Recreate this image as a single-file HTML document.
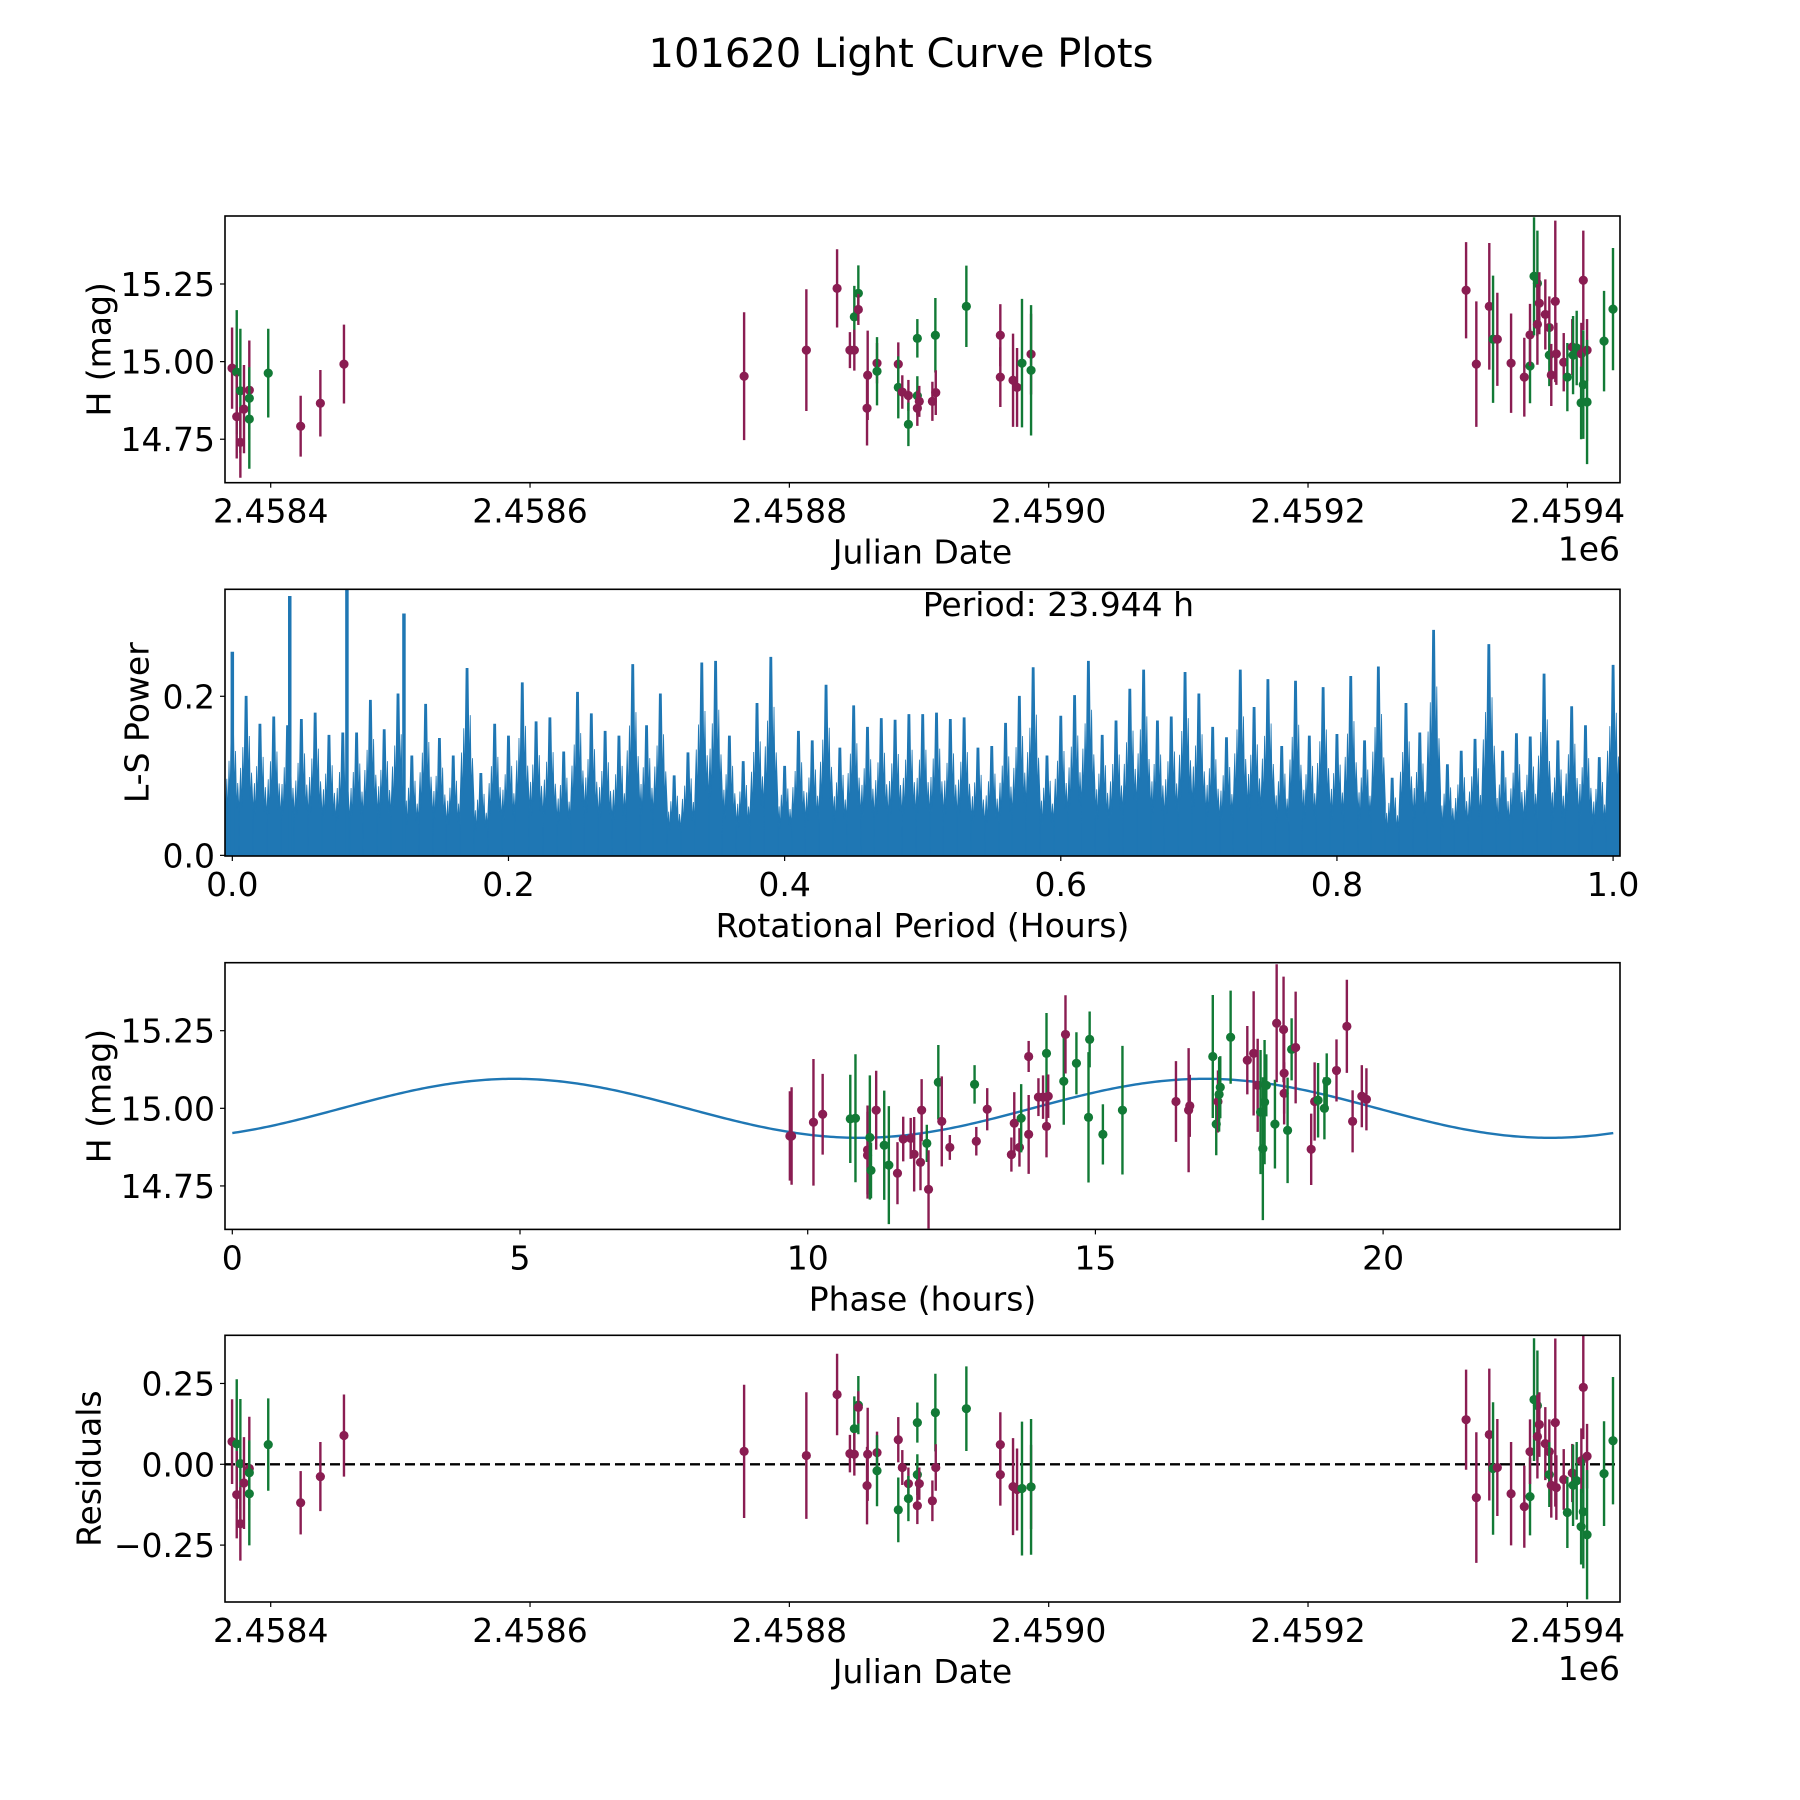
<!DOCTYPE html>
<html><head><meta charset="utf-8"><title>101620 Light Curve Plots</title>
<style>html,body{margin:0;padding:0;background:#fff}svg{display:block}text{font-family:"DejaVu Sans","Liberation Sans",sans-serif;fill:#000}</style>
</head><body>
<svg id="fig" xmlns="http://www.w3.org/2000/svg" width="1800" height="1800" viewBox="0 0 1800 1800">
<rect x="0" y="0" width="1800" height="1800" fill="#fff"/>
<text x="901" y="67" font-size="40" text-anchor="middle">101620 Light Curve Plots</text>
</svg>
<script>
// ---------- Light curve data (JD, H mag, error, band) ----------
const jd = [2458370.2,2458373.8,2458373.8,2458376.6,2458376.6,2458379.4,2458383.5,2458383.5,2458383.5,2458398.1,2458423.1,2458438.3,2458456.5,
2458765.1,2458813.1,2458836.8,2458850.1,2458853.2,2458853.2,2458846.7,2458850.1,2458860.4,2458859.9,2458867.6,2458867.6,2458884.0,2458884.0,2458887.1,2458891.8,2458891.8,2458898.7,2458898.7,2458898.7,2458900.2,2458910.3,2458912.6,2458912.9,2458936.5,2458962.7,2458962.7,2458972.5,2458975.6,2458979.4,2458986.4,2458986.4,
2459321.9,2459329.8,2459339.8,2459342.7,2459346.0,2459356.6,2459366.8,2459371.2,2459371.2,2459374.3,2459376.9,2459378.4,2459376.9,2459383.0,2459386.1,2459386.1,2459387.6,2459390.7,2459391.5,2459397.2,2459400.0,2459403.8,2459404.4,2459407.2,2459410.8,2459412.3,2459412.3,2459410.6,2459415.2,2459415.2,2459428.3,2459435.2];
const mag = [14.979,14.966,14.823,14.906,14.740,14.847,14.908,14.882,14.815,14.963,14.792,14.866,14.992,
14.953,15.037,15.236,15.144,15.220,15.168,15.037,15.037,14.956,14.850,14.995,14.969,14.992,14.917,14.902,14.891,14.798,15.075,14.890,14.850,14.872,14.872,15.085,14.900,15.178,15.085,14.950,14.940,14.917,14.995,15.024,14.972,
15.230,14.992,15.178,15.072,15.072,14.995,14.950,14.986,15.086,15.275,15.252,15.188,15.120,15.152,15.110,15.021,14.957,15.194,15.025,14.998,14.950,15.047,15.021,15.044,15.025,15.262,14.926,14.867,15.037,14.870,15.066,15.169];
const magErr = [0.131,0.20,0.135,0.20,0.114,0.142,0.16,0.10,0.16,0.143,0.098,0.107,0.127,
0.206,0.196,0.126,0.10,0.09,0.05,0.058,0.066,0.144,0.12,0.065,0.11,0.07,0.10,0.054,0.05,0.07,0.062,0.063,0.057,0.05,0.063,0.12,0.072,0.131,0.10,0.096,0.15,0.127,0.207,0.13,0.21,
0.155,0.202,0.204,0.205,0.15,0.16,0.127,0.12,0.10,0.19,0.17,0.10,0.13,0.113,0.10,0.10,0.10,0.26,0.10,0.094,0.11,0.09,0.126,0.12,0.10,0.16,0.175,0.117,0.10,0.20,0.162,0.197];
const band = "mgmgmmmgggmmm".split("").concat(
"mmmggmmmmmmgmgmmgggmmmgmgmmmmgmg".split(""),
"mmmgmmmgmggmmmmgmmmmgmggmmggmggg".split(""));
const resid = [0.070,0.063,-0.094,0.002,-0.184,-0.058,-0.013,-0.026,-0.091,0.061,-0.119,-0.038,0.089,
0.040,0.027,0.216,0.110,0.183,0.176,0.033,0.031,0.031,-0.066,0.036,-0.020,0.076,-0.141,-0.010,-0.060,-0.106,0.129,-0.032,-0.128,-0.060,-0.113,0.160,-0.010,0.172,0.061,-0.032,-0.069,-0.078,-0.075,-0.070,-0.070,
0.138,-0.103,0.092,-0.013,-0.010,-0.091,-0.131,-0.100,0.039,0.200,0.182,0.123,0.086,0.064,0.039,-0.032,-0.065,0.129,-0.072,-0.047,-0.149,-0.027,-0.065,-0.051,0.011,0.238,-0.147,-0.193,0.025,-0.218,-0.029,0.073];

// ---------- Phase-folded data ----------
const phase = [9.72,9.69,10.10,10.26,10.74,10.83,11.04,11.04,11.08,11.10,11.19,11.33,11.41,11.56,11.66,11.79,11.85,11.96,11.98,12.07,12.10,12.27,12.33,12.47,12.90,12.93,13.12,13.54,13.59,13.68,13.71,13.84,13.84,14.01,14.09,14.15,14.15,14.18,14.45,14.48,14.67,14.88,14.90,15.13,15.47,16.40,16.62,16.64,17.04,17.10,17.13,17.15,17.17,17.35,17.64,17.75,17.82,17.87,17.91,17.94,17.97,18.12,18.15,18.27,18.28,18.28,18.34,18.41,18.48,18.75,18.81,18.87,18.98,19.02,19.19,19.37,19.47,19.63,19.71];
const phaseMag = [14.911,14.911,14.955,14.981,14.966,14.968,14.866,14.849,14.906,14.800,14.994,14.881,14.817,14.791,14.901,14.903,14.852,14.826,14.994,14.887,14.739,15.084,14.958,14.874,15.077,14.894,14.997,14.851,14.952,14.874,14.968,15.167,14.916,15.036,15.036,15.177,14.942,15.039,15.087,15.238,15.145,14.971,15.222,14.916,14.994,15.022,14.994,15.008,15.167,14.949,15.022,15.045,15.068,15.229,15.155,15.177,15.074,14.988,14.870,15.020,15.074,14.949,15.274,15.254,15.113,15.048,14.929,15.190,15.196,14.868,15.022,15.026,15.000,15.087,15.122,15.264,14.958,15.039,15.029];
const phaseErr = [0.157,0.144,0.204,0.13,0.142,0.206,0.143,0.14,0.20,0.09,0.127,0.176,0.19,0.10,0.072,0.066,0.12,0.09,0.10,0.06,0.126,0.12,0.145,0.04,0.062,0.046,0.068,0.055,0.10,0.062,0.11,0.05,0.127,0.061,0.07,0.13,0.10,0.07,0.14,0.126,0.10,0.21,0.09,0.097,0.207,0.13,0.20,0.10,0.198,0.10,0.10,0.12,0.10,0.15,0.11,0.20,0.15,0.20,0.23,0.20,0.10,0.143,0.19,0.17,0.13,0.10,0.17,0.10,0.18,0.115,0.126,0.12,0.10,0.09,0.10,0.15,0.10,0.10,0.10];
const phaseBand = "mmmmggmmggmggmmmmmmgmgmmgmmmmmgmmmmgmmgmgggggmmmggmgggmmmgggggmmmmggmmmgggmmmmmmm".split("");

// ---------- Model curve parameters ----------
const modelMean = [15.0];
const modelAmp = [0.095];
const modelPeakPhase = [4.9];
const modelSubPeriod = [12.0];

// ---------- Periodogram (local peak power in 0.01 h bins, 0.00 .. 1.00 h) ----------
const lsHours = [];
const lsPeak = [0.175,0.200,0.165,0.174,0.163,0.171,0.179,0.151,0.154,0.154,0.195,0.158,0.203,0.125,0.190,0.147,0.125,0.235,0.103,0.165,0.150,0.217,0.168,0.173,0.130,0.205,0.178,0.156,0.150,0.240,0.163,0.203,0.100,0.129,0.242,0.244,0.150,0.118,0.191,0.249,0.112,0.156,0.144,0.214,0.135,0.188,0.161,0.172,0.170,0.177,0.177,
0.179,0.171,0.173,0.135,0.137,0.166,0.200,0.236,0.125,0.175,0.201,0.244,0.151,0.169,0.209,0.233,0.169,0.174,0.230,0.203,0.161,0.148,0.233,0.186,0.221,0.137,0.219,0.150,0.211,0.152,0.225,0.144,0.237,0.097,0.191,0.154,0.283,0.114,0.131,0.146,0.265,0.131,0.153,0.149,0.228,0.144,0.187,0.163,0.123,0.239];
for (let i = 0; i < lsPeak.length; i++) lsHours.push(i / 100);
const spikeHours = [0.000, 0.0416, 0.0830, 0.1243];
const spikePower = [0.256, 0.326, 0.345, 0.304];
const periodLabel = ["Period: 23.944 h"];

// ---------- Tick labels ----------
const jdTicks = [2458400,2458600,2458800,2459000,2459200,2459400];
const jdTickLabels = ["2.4584","2.4586","2.4588","2.4590","2.4592","2.4594"];
const magTicks = [14.75,15.00,15.25];
const magTickLabels = ["14.75","15.00","15.25"];
const lsXTicks = [0,0.2,0.4,0.6,0.8,1.0];
const lsXTickLabels = ["0.0","0.2","0.4","0.6","0.8","1.0"];
const lsYTicks = [0.0,0.2];
const lsYTickLabels = ["0.0","0.2"];
const phaseTicks = [0,5,10,15,20];
const phaseTickLabels = ["0","5","10","15","20"];
const resTicks = [-0.25,0,0.25];
const resTickLabels = ["\u22120.25","0.00","0.25"];

const NS = "http://www.w3.org/2000/svg";
const svg = document.getElementById("fig");
const COLORS = {m: "#8a1d52", g: "#127a36"};
function mk(tag, attrs, parent) {
  const e = document.createElementNS(NS, tag);
  for (const k in attrs) e.setAttribute(k, attrs[k]);
  (parent || svg).appendChild(e);
  return e;
}
const L = 225, R = 1620, H = 266.7;
function makeAxes(top, xlim, ylim, name) {
  const g = mk("g", {});
  
  
  const bottom = top + H;
  const sx = v => L + (v - xlim[0]) / (xlim[1] - xlim[0]) * (R - L);
  const sy = v => bottom - (v - ylim[0]) / (ylim[1] - ylim[0]) * H;
  const cid = name + "-clip";
  const cp = mk("clipPath", {id: cid}, g);
  mk("rect", {x: L, y: top, width: R - L, height: H}, cp);
  const plot = mk("g", {"clip-path": "url(#" + cid + ")"}, g);
  
  
  return {g, plot, sx, sy, top, bottom};
}
function frame(ax) {
  const r = mk("rect", {x: L, y: ax.top, width: R - L, height: H, fill: "none", stroke: "#000", "stroke-width": 1.6}, ax.g);
  
  
}
function xTicks(ax, vals, labels, nm) {
  vals.forEach((v, i) => {
    const x = ax.sx(v);
    const t = mk("line", {x1: x, x2: x, y1: ax.bottom, y2: ax.bottom + 5, stroke: "#000", "stroke-width": 1.2}, ax.g);
    
    
    const tx = mk("text", {x: x, y: ax.bottom + 40, "font-size": 33, "text-anchor": "middle"}, ax.g);
    tx.textContent = labels[i];
    
    
  });
}
function yTicks(ax, vals, labels, nm) {
  vals.forEach((v, i) => {
    const y = ax.sy(v);
    const t = mk("line", {x1: L - 5, x2: L, y1: y, y2: y, stroke: "#000", "stroke-width": 1.2}, ax.g);
    
    
    const tx = mk("text", {x: L - 10, y: y + 12, "font-size": 33, "text-anchor": "end"}, ax.g);
    tx.textContent = labels[i];
    
    
  });
}
function label(ax, xl, yl, ylx, nm) {
  const a = mk("text", {x: (L + R) / 2, y: ax.bottom + 81, "font-size": 33, "text-anchor": "middle"}, ax.g);
  a.textContent = xl;
  
  
  const cy = (ax.top + ax.bottom) / 2;
  const b = mk("text", {x: ylx, y: cy, "font-size": 33, "text-anchor": "middle", "dominant-baseline": "central", transform: "rotate(-90 " + ylx + " " + cy + ")"}, ax.g);
  b.textContent = yl;
  
  
}
function offsetText(ax, nm) {
  const t = mk("text", {x: R, y: ax.bottom + 78, "font-size": 33, "text-anchor": "end"}, ax.g);
  t.textContent = "1e6";
  
  
}
function errPoint(ax, x, y, e, c, nm) {
  const g = mk("g", {}, ax.plot);
  
  
  mk("line", {x1: ax.sx(x), x2: ax.sx(x), y1: ax.sy(y - e), y2: ax.sy(y + e), stroke: COLORS[c], "stroke-width": 2.4}, g);
  mk("circle", {cx: ax.sx(x), cy: ax.sy(y), r: 4.6, fill: COLORS[c]}, g);
}

// ---- Axes 1: light curve ----
const jdLim = [2458364.75, 2459440.6];
const ax1 = makeAxes(216, jdLim, [14.610, 15.469], "light-curve-axes");
jd.forEach((t, i) => errPoint(ax1, t, mag[i], magErr[i], band[i], "light-curve-point"));
frame(ax1);
xTicks(ax1, jdTicks, jdTickLabels, "jd-x");
yTicks(ax1, magTicks, magTickLabels, "mag-y");
label(ax1, "Julian Date", "H (mag)", 99, "light-curve");
offsetText(ax1, "light-curve");

// ---- Axes 2: periodogram ----
const ax2 = makeAxes(589.3, [-0.0053, 1.0050], [-0.0008, 0.3345], "periodogram-axes");
const y0 = ax2.sy(0);
const shape = [[-7,0.28],[-5.5,0.55],[-4.5,0.3],[-3.3,0.68],[-2.3,0.4],[-1,1],[1,1],[2.2,0.45],[3.2,0.75],[4.3,0.33],[5.4,0.52],[7,0.28]];
let d = "";
lsHours.forEach((h, i) => {
  const x = ax2.sx(h), p = lsPeak[i];
  d += "M" + (x - 7) + "," + y0;
  shape.forEach(s => { d += "L" + (x + s[0]).toFixed(2) + "," + ax2.sy(p * s[1]).toFixed(2); });
  d += "L" + (x + 7) + "," + y0 + "Z";
});
const ls = mk("path", {d: d, fill: "#1f77b4", stroke: "#1f77b4", "stroke-width": 0.8}, ax2.plot);


spikeHours.forEach((h, i) => {
  const s = mk("line", {x1: ax2.sx(h), x2: ax2.sx(h), y1: y0, y2: ax2.sy(spikePower[i]), stroke: "#1f77b4", "stroke-width": 3.5}, ax2.plot);
  
  
});
frame(ax2);
xTicks(ax2, lsXTicks, lsXTickLabels, "period-x");
yTicks(ax2, lsYTicks, lsYTickLabels, "power-y");
label(ax2, "Rotational Period (Hours)", "L-S Power", 137, "periodogram");
const pt = mk("text", {x: ax2.sx(0.5), y: 616, "font-size": 33}, ax2.g);
pt.textContent = periodLabel[0];



// ---- Axes 3: phase-folded ----
const ax3 = makeAxes(962.7, [-0.127, 24.117], [14.610, 15.469], "phase-axes");
let cd = "";
for (let k = 0; k <= 480; k++) {
  const ph = k * 24 / 480;
  const m = modelMean[0] + modelAmp[0] * Math.cos(2 * Math.PI * (ph - modelPeakPhase[0]) / modelSubPeriod[0]);
  cd += (k ? "L" : "M") + ax3.sx(ph).toFixed(2) + "," + ax3.sy(m).toFixed(2);
}
const curve = mk("path", {d: cd, fill: "none", stroke: "#1f77b4", "stroke-width": 2.4}, ax3.plot);


phase.forEach((p, i) => errPoint(ax3, p, phaseMag[i], phaseErr[i], phaseBand[i], "phase-point"));
frame(ax3);
xTicks(ax3, phaseTicks, phaseTickLabels, "phase-x");
yTicks(ax3, magTicks, magTickLabels, "phase-mag-y");
label(ax3, "Phase (hours)", "H (mag)", 99, "phase");

// ---- Axes 4: residuals ----
const ax4 = makeAxes(1335.3, jdLim, [-0.426, 0.399], "residuals-axes");
const zl = mk("line", {x1: L, x2: R, y1: ax4.sy(0), y2: ax4.sy(0), stroke: "#000", "stroke-width": 2.4, "stroke-dasharray": "10 5"}, ax4.plot);


jd.forEach((t, i) => errPoint(ax4, t, resid[i], magErr[i], band[i], "residual-point"));
frame(ax4);
xTicks(ax4, jdTicks, jdTickLabels, "res-jd-x");
yTicks(ax4, resTicks, resTickLabels, "residual-y");
label(ax4, "Julian Date", "Residuals", 89, "residuals");
offsetText(ax4, "residuals");
</script>
</body></html>
